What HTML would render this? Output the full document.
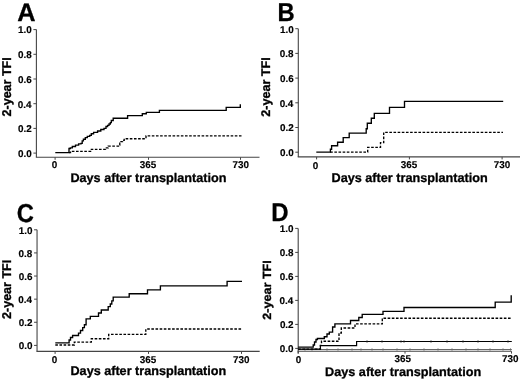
<!DOCTYPE html>
<html><head><meta charset="utf-8"><title>Figure</title><style>
html,body{margin:0;padding:0;background:#fff;width:520px;height:380px;overflow:hidden;}
svg{display:block;will-change:transform}
text{font-family:"Liberation Sans",sans-serif;font-weight:bold;text-rendering:geometricPrecision;}
</style></head><body>
<svg width="520" height="380" viewBox="0 0 520 380">
<rect width="520" height="380" fill="#fff"/>
<path d="M36.4,29.6 V157.3" stroke="#454545" stroke-width="1.1" fill="none"/>
<path d="M35.85,157.3 H259.5" stroke="#454545" stroke-width="1.1" fill="none"/>
<path d="M33.4,153.10 H36.4" stroke="#454545" stroke-width="1" fill="none"/>
<path d="M33.4,128.40 H36.4" stroke="#454545" stroke-width="1" fill="none"/>
<path d="M33.4,103.70 H36.4" stroke="#454545" stroke-width="1" fill="none"/>
<path d="M33.4,79.00 H36.4" stroke="#454545" stroke-width="1" fill="none"/>
<path d="M33.4,54.30 H36.4" stroke="#454545" stroke-width="1" fill="none"/>
<path d="M33.4,29.60 H36.4" stroke="#454545" stroke-width="1" fill="none"/>
<path d="M55.1,157.3 V159.8" stroke="#454545" stroke-width="1" fill="none"/>
<path d="M148.5,157.3 V159.8" stroke="#454545" stroke-width="1" fill="none"/>
<path d="M240.5,157.3 V159.8" stroke="#454545" stroke-width="1" fill="none"/>
<text x="18.086" y="156.978" font-size="9.887" textLength="13.744" lengthAdjust="spacingAndGlyphs" fill="#000" stroke="#000" stroke-width="0.150" stroke-linejoin="round">0.0</text>
<text x="18.077" y="132.278" font-size="9.887" textLength="13.744" lengthAdjust="spacingAndGlyphs" fill="#000" stroke="#000" stroke-width="0.150" stroke-linejoin="round">0.2</text>
<text x="17.734" y="107.578" font-size="9.887" textLength="13.744" lengthAdjust="spacingAndGlyphs" fill="#000" stroke="#000" stroke-width="0.150" stroke-linejoin="round">0.4</text>
<text x="18.038" y="82.878" font-size="9.887" textLength="13.744" lengthAdjust="spacingAndGlyphs" fill="#000" stroke="#000" stroke-width="0.150" stroke-linejoin="round">0.6</text>
<text x="17.985" y="58.178" font-size="9.887" textLength="13.744" lengthAdjust="spacingAndGlyphs" fill="#000" stroke="#000" stroke-width="0.150" stroke-linejoin="round">0.8</text>
<text x="18.086" y="33.478" font-size="9.887" textLength="13.744" lengthAdjust="spacingAndGlyphs" fill="#000" stroke="#000" stroke-width="0.150" stroke-linejoin="round">1.0</text>
<text x="17.319" y="20.650" font-size="25.291" textLength="18.299" lengthAdjust="spacingAndGlyphs" fill="#000" stroke="#000" stroke-width="0.300" stroke-linejoin="round">A</text>
<text x="51.708" y="168.378" font-size="9.887" textLength="5.499" lengthAdjust="spacingAndGlyphs" fill="#000" stroke="#000" stroke-width="0.150" stroke-linejoin="round">0</text>
<text x="139.793" y="167.664" font-size="9.866" textLength="16.462" lengthAdjust="spacingAndGlyphs" fill="#000" stroke="#000" stroke-width="0.150" stroke-linejoin="round">365</text>
<text x="232.509" y="167.564" font-size="9.866" textLength="16.462" lengthAdjust="spacingAndGlyphs" fill="#000" stroke="#000" stroke-width="0.150" stroke-linejoin="round">730</text>
<text x="70.404" y="181.850" font-size="12.500" textLength="156.030" lengthAdjust="spacingAndGlyphs" fill="#000" stroke="#000" stroke-width="0.300" stroke-linejoin="round">Days after transplantation</text>
<text x="0.000" y="0.000" font-size="12.718" textLength="59.121" lengthAdjust="spacingAndGlyphs" fill="#000" stroke="#000" stroke-width="0.350" stroke-linejoin="round" transform="translate(11.225,116.459) rotate(-90)">2-year TFI</text>
<path d="M55.3,152.6 H69 V148.5 H70.3 V147.9 H72.3 V146.5 H75.5 V145.1 H78.6 V143.9 H81 V143.3 H82.2 V140.8 H83.4 V139.2 H85.3 V137.6 H87.3 V136.4 H89.7 V135.3 H91.3 V133.7 H93.6 V132.3 H97.6 V131 H100.8 V129.5 H104 V128.4 H106 V126.5 H107.6 V125.3 H109 V124 H110.3 V122.6 H111.3 V120.5 H113.2 V118.2 H127.6 V115.6 H142.3 V113.7 H146.3 V112.4 H159.4 V110.3 H226.2 V107.4 H240.3 V104.2" stroke="#000" stroke-width="1.35" fill="none"/>
<path d="M69,152.6 H70.5 V151.3 H90.6 V149.4 H105.5 V147.8 H108.2 V146.1 H118.5 V145.1 H119.8 V143.2 H121 V141.6 H122.5 V140.3 H124.2 V138.7 H146 V135.8 H241.5 V135.8" stroke="#000" stroke-width="1.35" fill="none" stroke-dasharray="2.6,1.55"/>
<path d="M298.3,28.7 V156.9" stroke="#454545" stroke-width="1.1" fill="none"/>
<path d="M297.75,156.9 H520" stroke="#454545" stroke-width="1.1" fill="none"/>
<path d="M295.3,152.20 H298.3" stroke="#454545" stroke-width="1" fill="none"/>
<path d="M295.3,127.50 H298.3" stroke="#454545" stroke-width="1" fill="none"/>
<path d="M295.3,102.80 H298.3" stroke="#454545" stroke-width="1" fill="none"/>
<path d="M295.3,78.10 H298.3" stroke="#454545" stroke-width="1" fill="none"/>
<path d="M295.3,53.40 H298.3" stroke="#454545" stroke-width="1" fill="none"/>
<path d="M295.3,28.70 H298.3" stroke="#454545" stroke-width="1" fill="none"/>
<path d="M316.6,156.9 V159.4" stroke="#454545" stroke-width="1" fill="none"/>
<path d="M409.4,156.9 V159.4" stroke="#454545" stroke-width="1" fill="none"/>
<path d="M502.1,156.9 V159.4" stroke="#454545" stroke-width="1" fill="none"/>
<text x="279.986" y="156.078" font-size="9.887" textLength="13.744" lengthAdjust="spacingAndGlyphs" fill="#000" stroke="#000" stroke-width="0.150" stroke-linejoin="round">0.0</text>
<text x="279.977" y="131.378" font-size="9.887" textLength="13.744" lengthAdjust="spacingAndGlyphs" fill="#000" stroke="#000" stroke-width="0.150" stroke-linejoin="round">0.2</text>
<text x="279.634" y="106.678" font-size="9.887" textLength="13.744" lengthAdjust="spacingAndGlyphs" fill="#000" stroke="#000" stroke-width="0.150" stroke-linejoin="round">0.4</text>
<text x="279.938" y="81.978" font-size="9.887" textLength="13.744" lengthAdjust="spacingAndGlyphs" fill="#000" stroke="#000" stroke-width="0.150" stroke-linejoin="round">0.6</text>
<text x="279.885" y="57.278" font-size="9.887" textLength="13.744" lengthAdjust="spacingAndGlyphs" fill="#000" stroke="#000" stroke-width="0.150" stroke-linejoin="round">0.8</text>
<text x="279.986" y="32.578" font-size="9.887" textLength="13.744" lengthAdjust="spacingAndGlyphs" fill="#000" stroke="#000" stroke-width="0.150" stroke-linejoin="round">1.0</text>
<text x="277.460" y="21.150" font-size="25.873" textLength="17.170" lengthAdjust="spacingAndGlyphs" fill="#000" stroke="#000" stroke-width="0.300" stroke-linejoin="round">B</text>
<text x="312.708" y="168.578" font-size="9.887" textLength="5.499" lengthAdjust="spacingAndGlyphs" fill="#000" stroke="#000" stroke-width="0.150" stroke-linejoin="round">0</text>
<text x="400.843" y="167.664" font-size="9.866" textLength="16.462" lengthAdjust="spacingAndGlyphs" fill="#000" stroke="#000" stroke-width="0.150" stroke-linejoin="round">365</text>
<text x="493.859" y="167.564" font-size="9.866" textLength="16.462" lengthAdjust="spacingAndGlyphs" fill="#000" stroke="#000" stroke-width="0.150" stroke-linejoin="round">730</text>
<text x="331.503" y="181.850" font-size="12.646" textLength="156.233" lengthAdjust="spacingAndGlyphs" fill="#000" stroke="#000" stroke-width="0.300" stroke-linejoin="round">Days after transplantation</text>
<text x="0.000" y="0.000" font-size="12.573" textLength="59.325" lengthAdjust="spacingAndGlyphs" fill="#000" stroke="#000" stroke-width="0.350" stroke-linejoin="round" transform="translate(270.325,116.660) rotate(-90)">2-year TFI</text>
<path d="M316.3,152.1 H330.4 V149.2 H331.6 V145.7 H337.6 V142.2 H343.2 V137.6 H349.2 V133.1 H366.2 V128.7 H367.3 V123.2 H371.3 V118.2 H374.3 V113.3 H389.5 V107.4 H404.5 V101.3 H503.2 V101.3" stroke="#000" stroke-width="1.35" fill="none"/>
<path d="M330.2,152.1 H367.7 V147.4 H380.5 V142.6 H383.7 V132.4 H503 V132.4" stroke="#000" stroke-width="1.35" fill="none" stroke-dasharray="2.6,1.55"/>
<path d="M37.05,229.7 V351.4" stroke="#454545" stroke-width="1.1" fill="none"/>
<path d="M36.50,351.4 H259.7" stroke="#454545" stroke-width="1.1" fill="none"/>
<path d="M34.05,345.40 H37.05" stroke="#454545" stroke-width="1" fill="none"/>
<path d="M34.05,322.28 H37.05" stroke="#454545" stroke-width="1" fill="none"/>
<path d="M34.05,299.16 H37.05" stroke="#454545" stroke-width="1" fill="none"/>
<path d="M34.05,276.04 H37.05" stroke="#454545" stroke-width="1" fill="none"/>
<path d="M34.05,252.92 H37.05" stroke="#454545" stroke-width="1" fill="none"/>
<path d="M34.05,229.80 H37.05" stroke="#454545" stroke-width="1" fill="none"/>
<path d="M55.1,351.4 V353.9" stroke="#454545" stroke-width="1" fill="none"/>
<path d="M148.5,351.4 V353.9" stroke="#454545" stroke-width="1" fill="none"/>
<path d="M241.5,351.4 V353.9" stroke="#454545" stroke-width="1" fill="none"/>
<text x="18.736" y="349.278" font-size="9.887" textLength="13.744" lengthAdjust="spacingAndGlyphs" fill="#000" stroke="#000" stroke-width="0.150" stroke-linejoin="round">0.0</text>
<text x="18.727" y="326.158" font-size="9.887" textLength="13.744" lengthAdjust="spacingAndGlyphs" fill="#000" stroke="#000" stroke-width="0.150" stroke-linejoin="round">0.2</text>
<text x="18.384" y="303.038" font-size="9.887" textLength="13.744" lengthAdjust="spacingAndGlyphs" fill="#000" stroke="#000" stroke-width="0.150" stroke-linejoin="round">0.4</text>
<text x="18.688" y="279.918" font-size="9.887" textLength="13.744" lengthAdjust="spacingAndGlyphs" fill="#000" stroke="#000" stroke-width="0.150" stroke-linejoin="round">0.6</text>
<text x="18.635" y="256.798" font-size="9.887" textLength="13.744" lengthAdjust="spacingAndGlyphs" fill="#000" stroke="#000" stroke-width="0.150" stroke-linejoin="round">0.8</text>
<text x="18.736" y="233.678" font-size="9.887" textLength="13.744" lengthAdjust="spacingAndGlyphs" fill="#000" stroke="#000" stroke-width="0.150" stroke-linejoin="round">1.0</text>
<text x="16.678" y="221.696" font-size="25.988" textLength="17.121" lengthAdjust="spacingAndGlyphs" fill="#000" stroke="#000" stroke-width="0.300" stroke-linejoin="round">C</text>
<text x="51.708" y="363.178" font-size="9.887" textLength="5.499" lengthAdjust="spacingAndGlyphs" fill="#000" stroke="#000" stroke-width="0.150" stroke-linejoin="round">0</text>
<text x="139.843" y="362.864" font-size="9.866" textLength="16.462" lengthAdjust="spacingAndGlyphs" fill="#000" stroke="#000" stroke-width="0.150" stroke-linejoin="round">365</text>
<text x="233.109" y="362.564" font-size="9.866" textLength="16.462" lengthAdjust="spacingAndGlyphs" fill="#000" stroke="#000" stroke-width="0.150" stroke-linejoin="round">730</text>
<text x="70.506" y="374.850" font-size="12.646" textLength="155.727" lengthAdjust="spacingAndGlyphs" fill="#000" stroke="#000" stroke-width="0.300" stroke-linejoin="round">Days after transplantation</text>
<text x="0.000" y="0.000" font-size="12.718" textLength="59.121" lengthAdjust="spacingAndGlyphs" fill="#000" stroke="#000" stroke-width="0.350" stroke-linejoin="round" transform="translate(11.125,318.959) rotate(-90)">2-year TFI</text>
<path d="M55.3,342.8 H69.1 V340 H70.5 V337.5 H72.6 V335.5 H78.5 V333.1 H80.5 V330.5 H82.7 V327.6 H84.4 V324.7 H86.1 V318.8 H90.3 V316.3 H98.5 V313 H101.3 V310 H108.2 V306.6 H110.3 V304 H111.8 V300.8 H113.2 V297.1 H129.2 V293.7 H147.5 V289.8 H160.4 V285.9 H227.1 V281.3 H242.0 V281.3" stroke="#000" stroke-width="1.35" fill="none"/>
<path d="M55.3,345 H74.3 V342.1 H91.3 V338.7 H108.7 V334.3 H145.8 V329 H242.3 V329" stroke="#000" stroke-width="1.35" fill="none" stroke-dasharray="2.6,1.55"/>
<path d="M298.2,228.4 V353.5" stroke="#454545" stroke-width="1.1" fill="none"/>
<path d="M297.65,351.3 H511.5" stroke="#454545" stroke-width="1.1" fill="none"/>
<path d="M295.2,348.40 H298.2" stroke="#454545" stroke-width="1" fill="none"/>
<path d="M295.2,324.40 H298.2" stroke="#454545" stroke-width="1" fill="none"/>
<path d="M295.2,300.40 H298.2" stroke="#454545" stroke-width="1" fill="none"/>
<path d="M295.2,276.40 H298.2" stroke="#454545" stroke-width="1" fill="none"/>
<path d="M295.2,252.40 H298.2" stroke="#454545" stroke-width="1" fill="none"/>
<path d="M295.2,228.40 H298.2" stroke="#454545" stroke-width="1" fill="none"/>
<path d="M298.2,351.3 V353.6" stroke="#454545" stroke-width="1" fill="none"/>
<path d="M405.0,351.3 V353.6" stroke="#454545" stroke-width="1" fill="none"/>
<path d="M511.5,351.3 V353.6" stroke="#454545" stroke-width="1" fill="none"/>
<text x="279.886" y="352.278" font-size="9.887" textLength="13.744" lengthAdjust="spacingAndGlyphs" fill="#000" stroke="#000" stroke-width="0.150" stroke-linejoin="round">0.0</text>
<text x="279.877" y="328.278" font-size="9.887" textLength="13.744" lengthAdjust="spacingAndGlyphs" fill="#000" stroke="#000" stroke-width="0.150" stroke-linejoin="round">0.2</text>
<text x="279.534" y="304.278" font-size="9.887" textLength="13.744" lengthAdjust="spacingAndGlyphs" fill="#000" stroke="#000" stroke-width="0.150" stroke-linejoin="round">0.4</text>
<text x="279.838" y="280.278" font-size="9.887" textLength="13.744" lengthAdjust="spacingAndGlyphs" fill="#000" stroke="#000" stroke-width="0.150" stroke-linejoin="round">0.6</text>
<text x="279.785" y="256.278" font-size="9.887" textLength="13.744" lengthAdjust="spacingAndGlyphs" fill="#000" stroke="#000" stroke-width="0.150" stroke-linejoin="round">0.8</text>
<text x="279.886" y="232.278" font-size="9.887" textLength="13.744" lengthAdjust="spacingAndGlyphs" fill="#000" stroke="#000" stroke-width="0.150" stroke-linejoin="round">1.0</text>
<text x="271.247" y="221.350" font-size="25.727" textLength="17.310" lengthAdjust="spacingAndGlyphs" fill="#000" stroke="#000" stroke-width="0.300" stroke-linejoin="round">D</text>
<text x="295.758" y="363.378" font-size="9.887" textLength="5.499" lengthAdjust="spacingAndGlyphs" fill="#000" stroke="#000" stroke-width="0.150" stroke-linejoin="round">0</text>
<text x="394.493" y="361.864" font-size="9.866" textLength="16.462" lengthAdjust="spacingAndGlyphs" fill="#000" stroke="#000" stroke-width="0.150" stroke-linejoin="round">365</text>
<text x="502.109" y="362.064" font-size="9.866" textLength="16.462" lengthAdjust="spacingAndGlyphs" fill="#000" stroke="#000" stroke-width="0.150" stroke-linejoin="round">730</text>
<text x="325.103" y="376.350" font-size="12.500" textLength="156.131" lengthAdjust="spacingAndGlyphs" fill="#000" stroke="#000" stroke-width="0.300" stroke-linejoin="round">Days after transplantation</text>
<text x="0.000" y="0.000" font-size="11.846" textLength="59.428" lengthAdjust="spacingAndGlyphs" fill="#000" stroke="#000" stroke-width="0.350" stroke-linejoin="round" transform="translate(270.525,319.661) rotate(-90)">2-year TFI</text>
<path d="M298.2,349.5 H511.8" stroke="#555" stroke-width="0.9" fill="none"/>
<path d="M305,348.3 V350.7 M312,348.3 V350.7 M327,348.3 V350.7 M338,348.3 V350.7 M352,348.3 V350.7 M361,348.3 V350.7 M372,348.3 V350.7 M383,348.3 V350.7 M397,348.3 V350.7 M410,348.3 V350.7 M424,348.3 V350.7 M438,348.3 V350.7 M452,348.3 V350.7 M466,348.3 V350.7 M478,348.3 V350.7 M490,348.3 V350.7 M503,348.3 V350.7 M510.5,348.3 V350.7" stroke="#666" stroke-width="0.8" fill="none"/>
<path d="M298.2,349.1 H320.4 V345.6 H356.6 V341.5 H511.8 V341.5" stroke="#000" stroke-width="1.2" fill="none"/>
<path d="M367,340.3 V342.7 M382,340.3 V342.7 M401,340.3 V342.7 M404,340.3 V342.7 M431,340.3 V342.7 M447,340.3 V342.7 M463,340.3 V342.7 M478,340.3 V342.7 M493,340.3 V342.7 M508,340.3 V342.7" stroke="#222" stroke-width="0.8" fill="none"/>
<path d="M298.2,349.1 H320.4 V345.4 H321.5 V341.2 H339 V333 H341.3 V328 H355 V323.9 H382.3 V318.2 H512 V318.2" stroke="#000" stroke-width="1.35" fill="none" stroke-dasharray="2.6,1.55"/>
<path d="M298.2,347.1 H313.2 V345 H314.5 V342 H316 V339.5 H317.4 V338.5 H324.3 V336.7 H327 V334 H329.3 V332.1 H332.6 V327 H334.9 V323.8 H350.5 V320.5 H358.8 V317.5 H362.2 V314.4 H383 V311.4 H404 V307.5 H495.2 V302.1 H511.2 V295.2" stroke="#000" stroke-width="1.35" fill="none"/>
</svg>
</body></html>
